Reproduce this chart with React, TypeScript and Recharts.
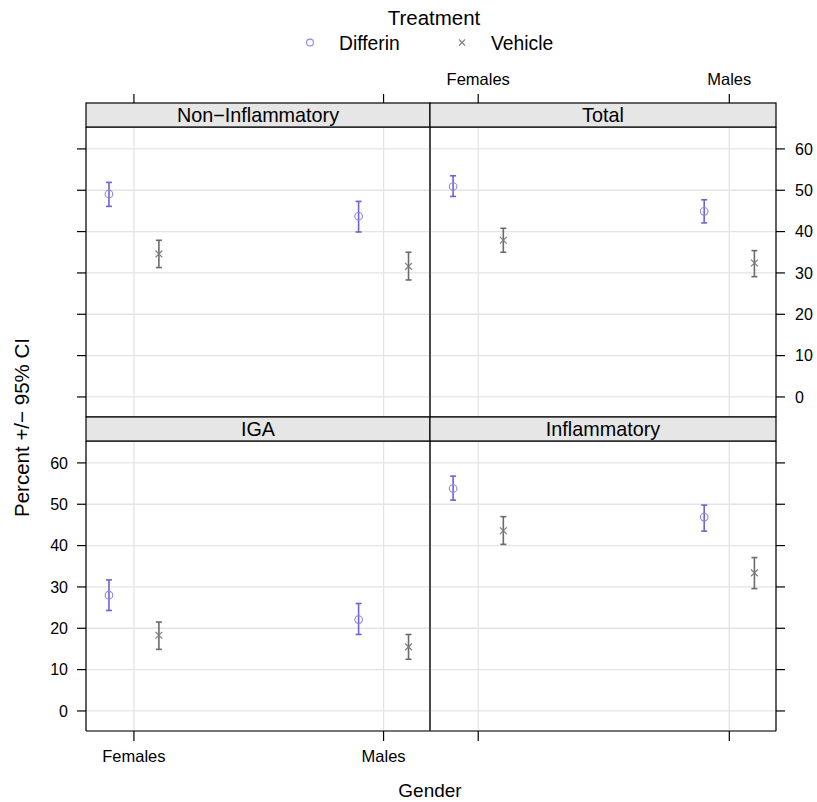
import React from 'react';
import { ScatterChart, Scatter, XAxis, YAxis, CartesianGrid, ErrorBar } from 'recharts';

// ---------- data ----------
const genders = ['Females', 'Males'];
const treatments = ['Differin', 'Vehicle'];
const yTicks = [0, 10, 20, 30, 40, 50, 60];
const genderTicks = [1, 2];

// each row: [estimate, lower 95% CI, upper 95% CI]; rows = Females, Males
const nonInflDifferin = [[49.1, 46.1, 51.9], [43.7, 39.9, 47.3]];
const nonInflVehicle = [[34.6, 31.3, 37.9], [31.6, 28.3, 35.0]];
const totalDifferin = [[50.9, 48.5, 53.5], [44.9, 42.1, 47.7]];
const totalVehicle = [[37.9, 35.0, 40.8], [32.4, 29.1, 35.4]];
const igaDifferin = [[28.0, 24.3, 31.7], [22.1, 18.5, 26.0]];
const igaVehicle = [[18.3, 14.9, 21.5], [15.5, 12.5, 18.5]];
const inflDifferin = [[53.8, 51.0, 56.8], [46.9, 43.5, 49.8]];
const inflVehicle = [[43.6, 40.3, 47.0], [33.4, 29.6, 37.1]];

// ---------- styles / layout ----------
const W = 817;
const H = 802;
const FONT = '"Liberation Sans", Arial, Helvetica, sans-serif';
const DIFF_BAR = '#6f63d4';
const DIFF_SYM = '#8f86e0';
const VEH_BAR = '#6b6b6b';
const VEH_SYM = '#7d7d7d';
const GRID = '#e4e4e4';
const STRIP_FILL = '#e6e6e6';
const DODGE = 0.1;
const X_DOMAIN: [number, number] = [0.808, 2.186];
const Y_DOMAIN: [number, number] = [-4.85, 65.3];
const AX = 40;
const STRIP_H = 24;
const FRAME_W = 1.2;

const LX0 = 86, LX1 = 430, RX0 = 430, RX1 = 776;
const TY0 = 127, TY1 = 417, BY0 = 441, BY1 = 731;

const toPoints = (rows: number[][], offset: number) =>
  rows.map((r, i) => ({
    x: i + 1 + offset,
    y: r[0],
    err: [r[0] - r[1], r[2] - r[0]],
    gender: genders[i],
  }));

const CircleShape = (props: any) => {
  const { cx, cy } = props;
  if (cx == null || cy == null) return <g />;
  return <circle cx={cx} cy={cy} r={3.8} fill="none" stroke={DIFF_SYM} strokeWidth={1.1} />;
};

const CrossShape = (props: any) => {
  const { cx, cy } = props;
  if (cx == null || cy == null) return <g />;
  const s = 3.4;
  return (
    <path
      d={`M${cx - s},${cy - s}L${cx + s},${cy + s}M${cx - s},${cy + s}L${cx + s},${cy - s}`}
      stroke={VEH_SYM}
      strokeWidth={1.2}
      fill="none"
    />
  );
};

const EmptyTick = () => <g />;

const genderFmt = (v: number) => genders[Math.round(v) - 1] ?? '';

type PanelProps = {
  differin: number[][];
  vehicle: number[][];
  x0: number; x1: number; y0: number; y1: number;
  leftTicks?: boolean; leftLabels?: boolean;
  rightTicks?: boolean; rightLabels?: boolean;
  topTicks?: boolean; topLabels?: boolean;
  bottomTicks?: boolean; bottomLabels?: boolean;
};

const axisLine = { stroke: '#000', strokeWidth: FRAME_W };
const tickLineStyle = { stroke: '#000', strokeWidth: FRAME_W };
const numTick = { fontSize: 16, fill: '#000', fontFamily: FONT };
const catTick = { fontSize: 16.5, fill: '#000', fontFamily: FONT };

function Panel(p: PanelProps) {
  const margin = {
    left: p.x0 - AX,
    right: W - p.x1 - AX,
    top: p.y0 - AX,
    bottom: H - p.y1 - AX,
  };
  return (
    <div style={{ position: 'absolute', left: 0, top: 0, width: W, height: H }}>
      <ScatterChart width={W} height={H} margin={margin}>
        <CartesianGrid stroke={GRID} strokeWidth={1.3} />
        <XAxis
          type="number"
          dataKey="x"
          domain={X_DOMAIN}
          ticks={genderTicks}
          allowDataOverflow
          interval={0}
          height={AX}
          orientation="bottom"
          axisLine={axisLine}
          tickLine={p.bottomTicks ? tickLineStyle : false}
          tickSize={10}
          tickMargin={9}
          tick={p.bottomLabels ? catTick : EmptyTick}
          tickFormatter={genderFmt}
        />
        <XAxis
          xAxisId="top"
          type="number"
          dataKey="x"
          domain={X_DOMAIN}
          ticks={genderTicks}
          allowDataOverflow
          interval={0}
          height={AX}
          orientation="top"
          axisLine={axisLine}
          tickLine={p.topTicks ? tickLineStyle : false}
          tickSize={STRIP_H + 9}
          tickMargin={9}
          tick={p.topLabels ? catTick : EmptyTick}
          tickFormatter={genderFmt}
        />
        <YAxis
          type="number"
          dataKey="y"
          domain={Y_DOMAIN}
          ticks={yTicks}
          allowDataOverflow
          interval={0}
          width={AX}
          orientation="left"
          axisLine={axisLine}
          tickLine={p.leftTicks ? tickLineStyle : false}
          tickSize={9}
          tickMargin={9}
          tick={p.leftLabels ? numTick : EmptyTick}
        />
        <YAxis
          yAxisId="right"
          type="number"
          dataKey="y"
          domain={Y_DOMAIN}
          ticks={yTicks}
          allowDataOverflow
          interval={0}
          width={AX}
          orientation="right"
          axisLine={axisLine}
          tickLine={p.rightTicks ? tickLineStyle : false}
          tickSize={9}
          tickMargin={10}
          tick={p.rightLabels ? numTick : EmptyTick}
        />
        <Scatter
          name={treatments[0]}
          data={toPoints(p.differin, -DODGE)}
          shape={CircleShape}
          isAnimationActive={false}
        >
          <ErrorBar dataKey="err" direction="y" width={3} stroke={DIFF_BAR} strokeWidth={1.6} />
        </Scatter>
        <Scatter
          name={treatments[1]}
          data={toPoints(p.vehicle, DODGE)}
          shape={CrossShape}
          isAnimationActive={false}
        >
          <ErrorBar dataKey="err" direction="y" width={3} stroke={VEH_BAR} strokeWidth={1.6} />
        </Scatter>
      </ScatterChart>
    </div>
  );
}

function Strip({ x0, x1, y, label }: { x0: number; x1: number; y: number; label: string }) {
  return (
    <g>
      <rect x={x0} y={y} width={x1 - x0} height={STRIP_H} fill={STRIP_FILL} stroke="#000" strokeWidth={FRAME_W} />
      <text x={(x0 + x1) / 2} y={y + 19.3} textAnchor="middle" fontSize={19.8} fill="#000" fontFamily={FONT}>
        {label}
      </text>
    </g>
  );
}

export default function App() {
  return (
    <div
      style={{
        position: 'absolute',
        left: 0,
        top: 0,
        width: W,
        height: H,
        background: '#fff',
        fontFamily: FONT,
        overflow: 'hidden',
      }}
    >
      <Panel differin={nonInflDifferin} vehicle={nonInflVehicle} x0={LX0} x1={LX1} y0={TY0} y1={TY1} leftTicks topTicks />
      <Panel differin={totalDifferin} vehicle={totalVehicle} x0={RX0} x1={RX1} y0={TY0} y1={TY1} rightTicks rightLabels topTicks topLabels />
      <Panel differin={igaDifferin} vehicle={igaVehicle} x0={LX0} x1={LX1} y0={BY0} y1={BY1} leftTicks leftLabels bottomTicks bottomLabels />
      <Panel differin={inflDifferin} vehicle={inflVehicle} x0={RX0} x1={RX1} y0={BY0} y1={BY1} rightTicks bottomTicks />
      <svg
        width={W}
        height={H}
        style={{ position: 'absolute', left: 0, top: 0, pointerEvents: 'none' }}
      >
        <Strip x0={LX0} x1={LX1} y={TY0 - STRIP_H} label="Non−Inflammatory" />
        <Strip x0={RX0} x1={RX1} y={TY0 - STRIP_H} label="Total" />
        <Strip x0={LX0} x1={LX1} y={BY0 - STRIP_H} label="IGA" />
        <Strip x0={RX0} x1={RX1} y={BY0 - STRIP_H} label="Inflammatory" />

        {/* legend */}
        <text x={434} y={25} textAnchor="middle" fontSize={20.5} fill="#000" fontFamily={FONT}>
          Treatment
        </text>
        <circle cx={310} cy={42.5} r={3.4} fill="none" stroke={DIFF_SYM} strokeWidth={1.1} />
        <text x={339} y={49.5} fontSize={19.3} fill="#000" fontFamily={FONT}>
          {treatments[0]}
        </text>
        <path d="M459,39.5L465,45.5M459,45.5L465,39.5" stroke={VEH_SYM} strokeWidth={1.1} />
        <text x={491} y={49.5} fontSize={19.3} fill="#000" fontFamily={FONT}>
          {treatments[1]}
        </text>

        {/* axis titles */}
        <text x={430} y={797} textAnchor="middle" fontSize={19} fill="#000" fontFamily={FONT}>
          Gender
        </text>
        <text
          x={21}
          y={427.5}
          textAnchor="middle"
          dominantBaseline="central"
          transform="rotate(-90 21 427.5)"
          fontSize={20.5}
          fill="#000"
          fontFamily={FONT}
        >
          Percent +/− 95% CI
        </text>
      </svg>
    </div>
  );
}
